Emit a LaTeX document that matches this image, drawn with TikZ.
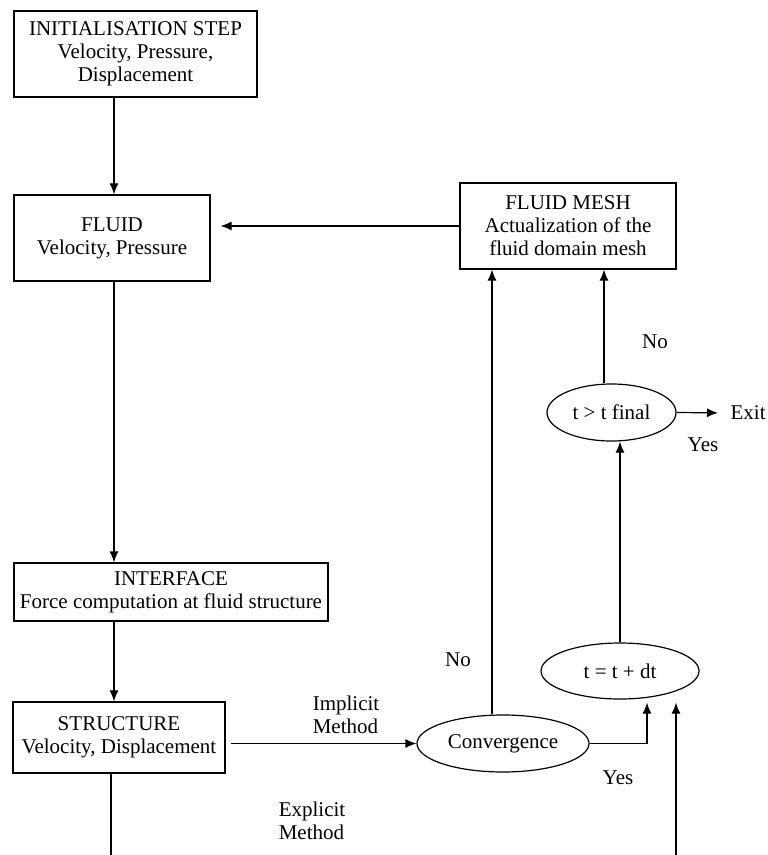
\documentclass[tikz,border=0pt]{standalone}
\usepackage{fontspec}
\setmainfont{Liberation Serif}
\usepackage{tikz}
\usetikzlibrary{arrows.meta,shapes,positioning}
\usetikzlibrary{calc}

\begin{document}
\begin{tikzpicture}[x=0.5pt, y=-0.5pt, >={Latex[length=5.5pt,width=4.5pt]}, line width=0.6pt,
    font=\fontsize{10.5}{11.5}\selectfont,
    box/.style={draw, rectangle, align=center, inner sep=0pt},
    oval/.style={draw, ellipse, align=center, inner sep=0pt},
    lbl/.style={draw=none, inner sep=0pt, align=left}]
  \useasboundingbox (0,0) rectangle (767,855);
  % boxes of the coupling loop
  \node[box, minimum width=121.5pt, minimum height=43pt] (init) at (135.5,54)
       {INITIALISATION STEP\\ Velocity, Pressure,\\ Displacement};
  \node[box, minimum width=98pt, minimum height=43pt] (fluid) at (112,238)
       {FLUID\\ Velocity, Pressure};
  \node[box, minimum width=108pt, minimum height=43pt] (mesh) at (568,226)
       {FLUID MESH\\ Actualization of the\\ fluid domain mesh};
  \node[box, minimum width=157pt, minimum height=29pt] (interface) at (171,592)
       {INTERFACE\\ Force computation at fluid structure};
  \node[box, minimum width=106pt, minimum height=35.5pt] (structure) at (119,737.5)
       {STRUCTURE\\ Velocity, Displacement};
  \node[oval, minimum width=86pt, minimum height=28.5pt] (conv) at (503,743.5)
       {Convergence};
  \node[oval, minimum width=79pt, minimum height=28pt] (tdt) at (620,671)
       {t = t + dt};
  \node[oval, minimum width=64.5pt, minimum height=28.5pt] (tfinal) at (611.5,412.5)
       {t > t final};
  \node[lbl, anchor=west] (exit) at (730,413) {Exit};

  % connectors
  \coordinate (lx) at (114,0);
  \coordinate (nox) at (492,0);
  \coordinate (yx) at (604,0);
  \draw[->] (init.south -| lx) -- (fluid.north -| lx);
  \draw[->] (fluid.south -| lx) -- (interface.north -| lx);
  \draw[->] (interface.south -| lx) -- (structure.north -| lx);
  \draw[->, shorten >=5pt] (mesh.west) -- (mesh.west -| fluid.east);
  \draw[->, shorten <=2.5pt] (structure.east |- conv.west) -- (conv.west);
  \draw[->] (conv.north -| nox) -- (mesh.south -| nox);
  \draw[->] (conv.east) -| ($(tdt.south)+(27,3)$);
  \draw[->] (tdt.north) -- (tdt.north |- tfinal.south);
  \draw[->] (tfinal.north -| yx) -- (mesh.south -| yx);
  \draw[->, shorten >=6pt] (tfinal.east) -- (exit.west);

  % lines leaving the page
  \coordinate (out) at (111,855);
  \coordinate (back) at (676,855);
  \draw (structure.south -| out) -- (out);
  \draw[->] (back) -- ($(back |- tdt.south)+(0,3)$);

  % labels
  \node[lbl] (no1) at (458,660) {No};
  \node[lbl] (no2) at (655,342) {No};
  \node[lbl] (yes1) at (618,778) {Yes};
  \node[lbl] (yes2) at (703,445) {Yes};
  \node[lbl] (impl) at (346,715) {Implicit\\Method};
  \node[lbl] (expl) at (312,821) {Explicit\\Method};
\end{tikzpicture}
\end{document}
